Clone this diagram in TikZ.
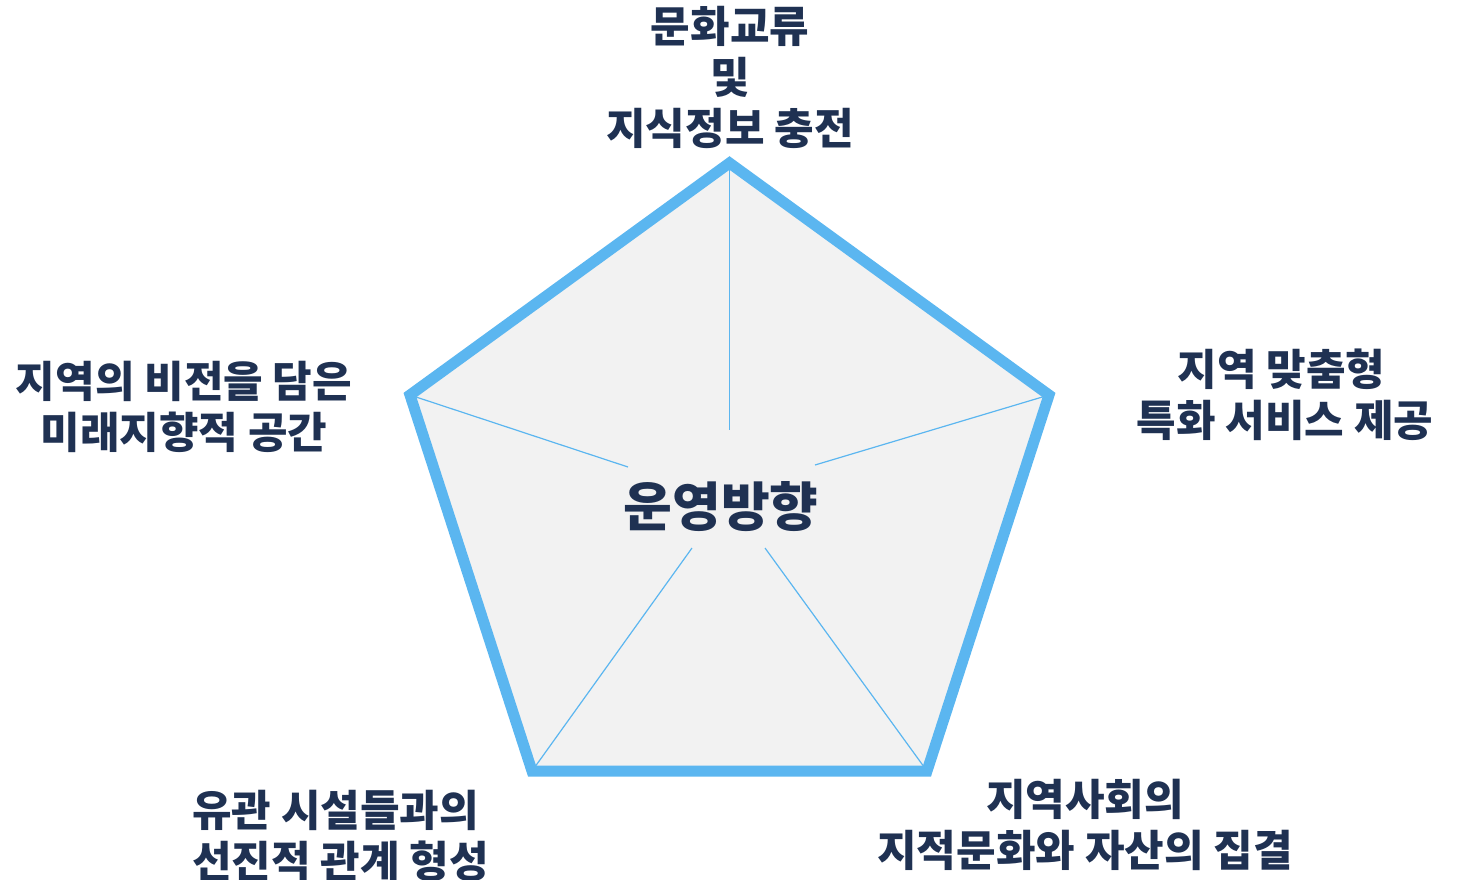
\documentclass[tikz,border=0pt]{standalone}
\usepackage{fontspec}
\newfontfamily\kr{Noto Sans CJK KR}
\definecolor{pblue}{HTML}{5BB6F0}
\definecolor{pnavy}{HTML}{1F3152}
\definecolor{pfill}{HTML}{F2F2F2}
\tikzset{
  lbl/.style={text=pnavy, font=\kr\bfseries\fontsize{43}{51}\selectfont, inner sep=0pt, align=center},
  ctr/.style={text=pnavy, font=\kr\bfseries\fontsize{53}{60}\selectfont, inner sep=0pt},
  rim/.style={draw=pblue, line width=11pt, line join=miter, fill=pfill},
  spoke/.style={draw=pblue, line width=1.2pt}
}
\begin{document}
\begin{tikzpicture}[x=1pt,y=-1pt]
\useasboundingbox (0,0) rectangle (1459,879);
\coordinate (vT) at (729.5,163);
\coordinate (vR) at (1049,395);
\coordinate (vBR) at (927,771);
\coordinate (vBL) at (532,771);
\coordinate (vL) at (410,395);
\draw[rim] (vT) -- (vR) -- (vBR) -- (vBL) -- (vL) -- cycle;
\coordinate (eT) at (729.5,430);
\coordinate (eR) at (815,465);
\coordinate (eBR) at (765,548);
\coordinate (eBL) at (692,548);
\coordinate (eL) at (628,467);
\draw[spoke] (vT) -- (eT);
\draw[spoke] (vR) -- (eR);
\draw[spoke] (vBR) -- (eBR);
\draw[spoke] (vBL) -- (eBL);
\draw[spoke] (vL) -- (eL);
\node[ctr] (center) at (721,507) {운영방향};
\node[lbl] (top) at (730,77) {문화교류\\및\\지식정보 충전};
\node[lbl] (left) at (184,407) {지역의 비전을 담은\\미래지향적 공간};
\node[lbl] (right) at (1285,395) {지역 맞춤형\kern7pt\\특화 서비스 제공};
\node[lbl, align=left, anchor=west] (bl) at (192,836) {유관 시설들과의\\선진적 관계 형성};
\node[lbl] (br) at (1085,825) {지역사회의\\지적문화와 자산의 집결};
\end{tikzpicture}
\end{document}
